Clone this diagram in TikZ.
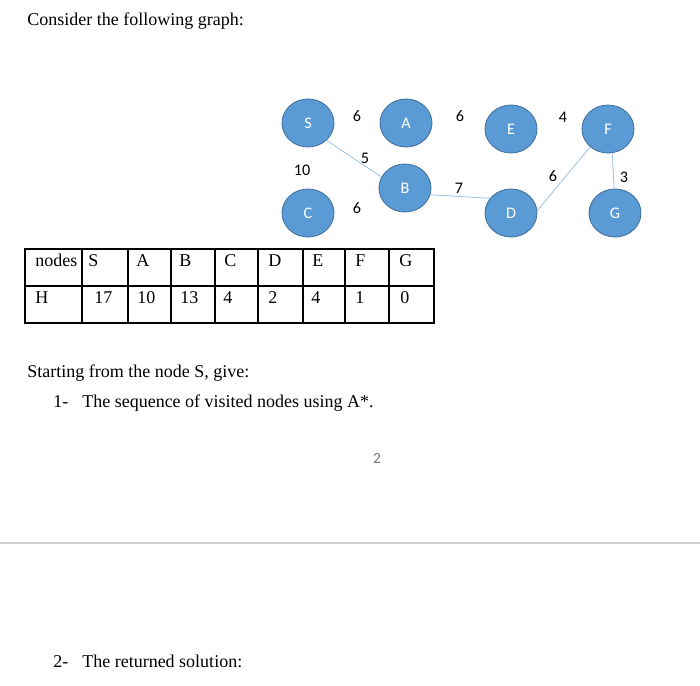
\documentclass[tikz,border=0pt]{standalone}
\usepackage{fontspec}
\setmainfont{Liberation Serif}
\newfontfamily\calibfont{Carlito}
\usetikzlibrary{shapes.geometric}
\definecolor{nodefill}{HTML}{5B9BD5}
\definecolor{nodeedge}{HTML}{41719C}
\definecolor{edgeblue}{HTML}{9DC3E6}
\definecolor{rulegray}{HTML}{D0D0D0}

\begin{document}
\begin{tikzpicture}[
  x=0.025cm, y=-0.025cm,
  font=\fontsize{12.8}{15}\selectfont,
  vert/.style={ellipse, fill=nodefill, draw=nodeedge, line width=0.6pt,
               minimum width=1.3cm, minimum height=1.2cm, inner sep=0pt,
               text=white, font=\calibfont\fontsize{11.5}{13}\selectfont},
  wt/.style={font=\calibfont\fontsize{11.5}{13}\selectfont, inner sep=0pt},
  ln/.style={edgeblue, line width=0.6pt},
  txt/.style={anchor=base west, inner sep=0pt},
  tblline/.style={line width=0.9pt}
]
\useasboundingbox (0,0) rectangle (700,686);

\node[txt] (intro) at (27,25) {Consider the following graph:};

% --- graph ---
\node[vert] (S) at (308,123) {S};
\node[vert] (A) at (406,123) {A};
\node[vert] (E) at (511,129) {E};
\node[vert] (F) at (608,129) {F};
\node[vert] (B) at (405,188) {B};
\node[vert] (C) at (308,213) {C};
\node[vert] (D) at (511,213) {D};
\node[vert] (G) at (615,213) {G};

\draw[ln] (S.-43) -- (B.155);
\draw[ln] (B.-15) -- (D.145);
\draw[ln] (D.5)   -- (F.225);
\draw[ln] (F.-80) -- (G.92);

\node[wt] (wSA) at (357,116) {6};
\node[wt] (wAE) at (460,116) {6};
\node[wt] (wEF) at (563,117) {4};
\node[wt] (wSB) at (365,158) {5};
\node[wt] (wSC) at (302,170) {10};
\node[wt] (wBD) at (459,188) {7};
\node[wt] (wCB) at (357,208) {6};
\node[wt] (wDF) at (553,176) {6};
\node[wt] (wFG) at (624,177) {3};

% --- heuristic table ---
\draw[tblline] (25,249) rectangle (434,323);
\draw[tblline] (25,286) -- (434,286);
\foreach \x in {82,128,171,215,258,303,345,389}
  \draw[tblline] (\x,249) -- (\x,323);

\node[txt] (nodes) at (35,266) {nodes};
\node[txt] (H) at (35,303) {H};
\foreach \n/\x/\hx/\h in {S/88/94/17, A/136/137/10, B/179/180/13, C/224/223/4,
                          D/268/268/2, E/312/311/4, F/355/355/1, G/399/400/0}{
  \node[txt] (n\n) at (\x,266) {\n};
  \node[txt] (h\n) at (\hx,303) {\h};
}

% --- questions ---
\node[txt] (start) at (27,377) {Starting from the node S, give:};
\node[txt] (q1num) at (53,407) {1-};
\node[txt] (q1) at (82,407) {The sequence of visited nodes using A*.};

\node[font=\calibfont\fontsize{11}{13}\selectfont, text=black!55] (page) at (377,458) {2};
\draw[rulegray, line width=1.5pt] (0,543) -- (700,543);

\node[txt] (q2num) at (53,667) {2-};
\node[txt] (q2) at (82,667) {The returned solution:};
\end{tikzpicture}
\end{document}
